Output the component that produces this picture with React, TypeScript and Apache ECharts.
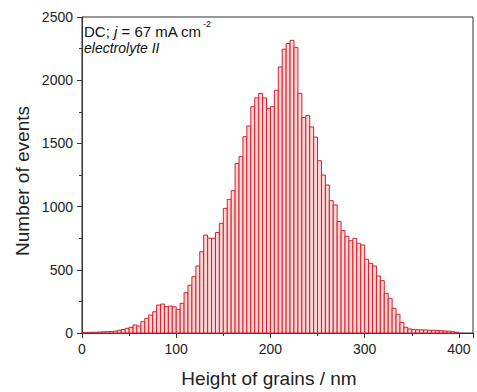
import React, { useEffect, useRef } from "react";
import * as echarts from "echarts";

// Histogram: bin width (nm) and counts per bin, starting at 0 nm
const binWidth = 400 / 96;
const counts = [
  5, 5, 6, 6, 8, 10, 10, 12, 15, 22, 28,
  37, 45, 63, 55, 90, 116, 142, 168, 221, 229,
  208, 213, 208, 187, 235, 319, 378, 446, 530, 643,
  775, 750, 750, 795, 868, 986, 1057, 1126, 1342, 1395,
  1553, 1638, 1790, 1860, 1895, 1860, 1775, 1790, 1920, 2105,
  2245, 2290, 2315, 2260, 1896, 1705, 1720, 1630, 1550, 1363,
  1250, 1171, 1047, 1013, 881, 810, 765, 730, 749, 710,
  696, 583, 551, 530, 451, 414, 314, 274, 195, 148,
  82, 45, 32, 28, 26, 25, 24, 22, 22, 20,
  18, 16, 14, 10, 6,
];
const xTicks = [0, 100, 200, 300, 400];
const yTicks = [0, 500, 1000, 1500, 2000, 2500];
const xTitle = "Height of grains / nm";
const yTitle = "Number of events";
const noteLine1 = ["DC; ", "j", " = 67 mA cm"];
const noteSup = "-2";
const noteLine2 = "electrolyte II";

const FONT = "'Liberation Sans', Arial, sans-serif";

export default function App() {
  const ref = useRef<HTMLDivElement>(null);
  useEffect(() => {
    if (!ref.current) return;
    const chart = echarts.init(ref.current, null, { renderer: "svg" });
    const data = counts.map((c, i) => [i * binWidth, (i + 1) * binWidth, c]);
    chart.setOption({
      animation: false,
      backgroundColor: "#ffffff",
      grid: {
        left: 82,
        top: 17,
        width: 391,
        height: 316,
        show: true,
        borderColor: "#333",
        borderWidth: 1,
        backgroundColor: "transparent",
      },
      xAxis: {
        type: "value",
        min: 0,
        max: 415,
        interval: 100,
        axisLine: { show: true, lineStyle: { color: "#333", width: 1 } },
        axisTick: { show: true, inside: false, length: 5, lineStyle: { color: "#333" } },
        minorTick: { show: true, splitNumber: 2, length: 3, lineStyle: { color: "#333" } },
        splitLine: { show: false },
        axisLabel: {
          color: "#222",
          fontSize: 14,
          fontFamily: FONT,
          margin: 9,
          formatter: (v: number) => (xTicks.includes(v) ? String(v) : ""),
        },
      },
      yAxis: {
        type: "value",
        min: 0,
        max: 2500,
        interval: 500,
        axisLine: { show: true, lineStyle: { color: "#333", width: 1 } },
        axisTick: { show: true, inside: false, length: 5, lineStyle: { color: "#333" } },
        minorTick: { show: true, splitNumber: 2, length: 3, lineStyle: { color: "#333" } },
        splitLine: { show: false },
        axisLabel: {
          color: "#222",
          fontSize: 14,
          fontFamily: FONT,
          margin: 9,
          formatter: (v: number) => (yTicks.includes(v) ? String(v) : ""),
        },
      },
      series: [
        {
          type: "custom",
          data,
          encode: { x: [0, 1], y: 2 },
          renderItem: (params: any, api: any) => {
            const x0 = api.value(0);
            const x1 = api.value(1);
            const v = api.value(2);
            const pTop = api.coord([x0, v]);
            const pBot = api.coord([x1, 0]);
            return {
              type: "rect",
              shape: {
                x: pTop[0],
                y: pTop[1],
                width: pBot[0] - pTop[0],
                height: pBot[1] - pTop[1],
              },
              style: { fill: "#fbd6d6", stroke: "#d61f2a", lineWidth: 1 },
            };
          },
        },
      ],
      graphic: [
        {
          type: "text",
          x: 22,
          y: 181,
          rotation: Math.PI / 2,
          style: {
            text: yTitle,
            fill: "#222",
            font: `19px ${FONT}`,
            align: "center",
            verticalAlign: "middle",
          },
        },
        {
          type: "text",
          x: 269,
          y: 378,
          style: {
            text: xTitle,
            fill: "#222",
            font: `19px ${FONT}`,
            align: "center",
            verticalAlign: "middle",
          },
        },
        {
          type: "text",
          x: 84,
          y: 31,
          style: {
            text: `{n|${noteLine1[0]}}{i|${noteLine1[1]}}{n|${noteLine1[2]}}`,
            verticalAlign: "middle",
            rich: {
              n: { fontSize: 15, fontFamily: FONT, fill: "#111" },
              i: { fontSize: 15, fontFamily: FONT, fontStyle: "italic", fill: "#111" },
            },
          },
        },
        {
          type: "text",
          x: 203,
          y: 24,
          style: {
            text: noteSup,
            fill: "#111",
            font: `9px ${FONT}`,
            verticalAlign: "middle",
          },
        },
        {
          type: "text",
          x: 84,
          y: 48,
          style: {
            text: noteLine2,
            fill: "#111",
            font: `italic 14px ${FONT}`,
            verticalAlign: "middle",
          },
        },
      ],
    });
    return () => chart.dispose();
  }, []);
  return <div ref={ref} style={{ width: 477, height: 392, position: "absolute", left: 0, top: 0 }} />;
}
